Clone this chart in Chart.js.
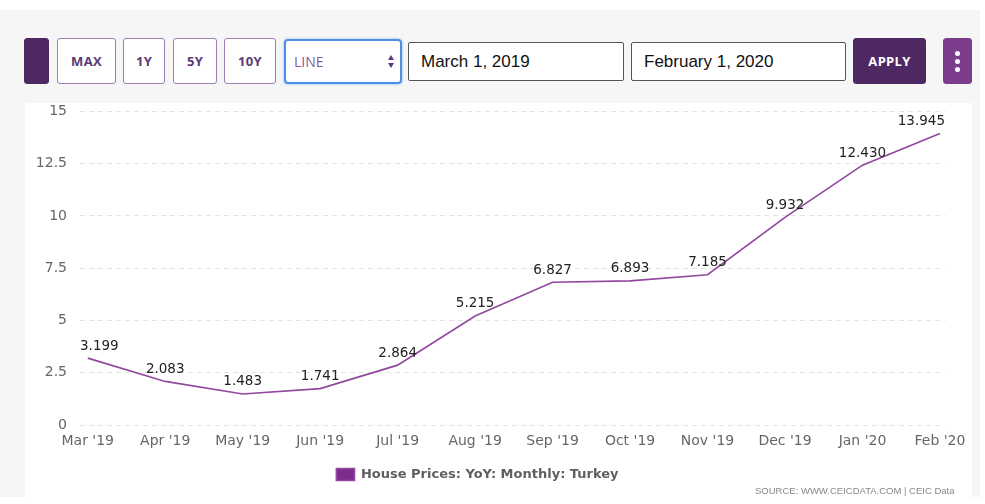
<!DOCTYPE html>
<html>
<head>
<meta charset="utf-8">
<script src="https://cdn.jsdelivr.net/npm/chart.js@4"></script>
<style>
  body { margin: 0; width: 985px; height: 504px; background: #fff; position: relative; overflow: hidden; font-family: "Open Sans", sans-serif; }
  #panel { position: absolute; left: 0; top: 10px; width: 980px; height: 487px; background: #f6f6f6; }
  #card { position: absolute; left: 25px; top: 103px; width: 947px; height: 394px; background: #fff; }
  .btn { position: absolute; top: 38px; height: 46px; box-sizing: border-box; border: 1.5px solid #9a7fb0; border-radius: 3px; background: #fff;
         color: #5b3a78; font-weight: 700; font-size: 13px; display: flex; align-items: center; justify-content: center; letter-spacing: 0.3px; }
  .dark { background: #4d2862; border-color: #4d2862; color: #fff; }
  .field { position: absolute; top: 42px; height: 39px; box-sizing: border-box; border: 1px solid #555; border-radius: 2px; background: #fff;
           font-family: "Liberation Sans", sans-serif; font-size: 17px; color: #111; display: flex; align-items: center; padding-left: 12px; }
  #sel { position: absolute; left: 284px; top: 39px; width: 118px; height: 45px; box-sizing: border-box; border: 2px solid #4d8fe6; border-radius: 4px;
         box-shadow: 0 0 3px #8bb8f3; background: #fff; color: #85579d; font-size: 14px; display: flex; align-items: center; padding-left: 8px; }
  .tri { position: absolute; right: 6px; width: 0; height: 0; border-left: 3.5px solid transparent; border-right: 3.5px solid transparent; }
  #source { position: absolute; left: 755px; top: 485px; font-family: "Liberation Sans", sans-serif; font-size: 9.5px; color: #888; white-space: nowrap; }
  #wrap { position: absolute; left: 25px; top: 90px; width: 947px; height: 407px; }
</style>
</head>
<body>
<div id="panel"></div>
<div id="card"></div>

<div class="btn dark" style="left:24px;width:25px;"></div>
<div class="btn" style="left:57px;width:59px;">MAX</div>
<div class="btn" style="left:123px;width:42px;">1Y</div>
<div class="btn" style="left:173px;width:44px;">5Y</div>
<div class="btn" style="left:224px;width:52px;">10Y</div>
<div id="sel">LINE
  <div class="tri" style="top:14px;border-bottom:5px solid #5b3a78;"></div>
  <div class="tri" style="top:22px;border-top:5px solid #5b3a78;"></div>
</div>
<div class="field" style="left:408px;width:216px;">March 1, 2019</div>
<div class="field" style="left:631px;width:215px;">February 1, 2020</div>
<div class="btn dark" style="left:853px;width:73px;font-size:13px;">APPLY</div>
<div class="btn" style="left:943px;width:29px;background:#7c3c8c;border-color:#7c3c8c;flex-direction:column;gap:3px;">
  <span style="width:5px;height:5px;border-radius:50%;background:#fff;"></span>
  <span style="width:5px;height:5px;border-radius:50%;background:#fff;"></span>
  <span style="width:5px;height:5px;border-radius:50%;background:#fff;"></span>
</div>

<div id="wrap"><canvas id="grafico"></canvas></div>
<div id="source">SOURCE: WWW.CEICDATA.COM | CEIC Data</div>

<script>
const meses = ["Mar '19", "Apr '19", "May '19", "Jun '19", "Jul '19", "Aug '19", "Sep '19", "Oct '19", "Nov '19", "Dec '19", "Jan '20", "Feb '20"];
const valores = [3.199, 2.083, 1.483, 1.741, 2.864, 5.215, 6.827, 6.893, 7.185, 9.932, 12.430, 13.945];
const ticksY = [0, 2.5, 5, 7.5, 10, 12.5, 15];
const serie = "House Prices: YoY: Monthly: Turkey";

const ctx = document.getElementById("grafico").getContext("2d");

// etiquetas encima de cada punto, sin salirse del area
const etiquetas = {
  id: "etiquetas",
  afterDatasetsDraw(chart) {
    const c = chart.ctx;
    const area = chart.chartArea;
    const meta = chart.getDatasetMeta(0);
    c.save();
    c.font = "13.5px 'DejaVu Sans'";
    c.fillStyle = "#222";
    c.textAlign = "center";
    c.textBaseline = "middle";
    meta.data.forEach((p, i) => {
      const txt = valores[i].toFixed(3);
      const w = c.measureText(txt).width;
      let x = p.x;
      if (x - w / 2 < area.left) x = area.left + w / 2;
      if (x + w / 2 > area.right) x = area.right - w / 2;
      c.fillText(txt, x, p.y - 12);
    });
    c.restore();
  }
};

// mover la leyenda un poco a la izquierda
const moverLeyenda = {
  id: "moverLeyenda",
  afterLayout(chart) {
    chart.legend.left -= 12;
    chart.legend.right -= 12;
  }
};

new Chart(ctx, {
  type: "line",
  data: {
    datasets: [{
      label: serie,
      data: valores.map((v, i) => ({ x: i, y: v })),
      borderColor: "#93489f",
      backgroundColor: "#7b2d8e",
      borderWidth: 1.7,
      pointRadius: 0,
      tension: 0,
      fill: false
    }]
  },
  options: {
    responsive: true,
    maintainAspectRatio: false,
    animation: false,
    layout: { padding: { left: 9, right: 27, top: 7, bottom: 6 } },
    plugins: {
      tooltip: { enabled: false },
      legend: {
        position: "bottom",
        labels: {
          boxWidth: 18, boxHeight: 12, padding: 14,
          color: "#5f5f5f",
          font: { family: "DejaVu Sans", size: 13, weight: "bold" }
        }
      }
    },
    scales: {
      x: {
        type: "linear",
        min: -0.1,
        max: 11.065,
        afterBuildTicks: s => { s.ticks = meses.map((_, i) => ({ value: i })); },
        afterFit: s => { s.height = 29; },
        grid: { display: false },
        border: { display: false },
        ticks: {
          autoSkip: false, maxRotation: 0, padding: 0,
          color: "#666", font: { family: "DejaVu Sans", size: 14 },
          callback: v => meses[v]
        }
      },
      y: {
        min: 0,
        max: 15,
        afterBuildTicks: s => { s.ticks = ticksY.map(v => ({ value: v })); },
        afterFit: s => { s.width = 46; },
        border: { display: false, dash: [5, 4] },
        grid: { color: "#e3e3e3", drawTicks: false },
        ticks: { padding: 13, color: "#666", font: { family: "DejaVu Sans", size: 14 } }
      }
    }
  },
  plugins: [etiquetas, moverLeyenda]
});
</script>
</body>
</html>
